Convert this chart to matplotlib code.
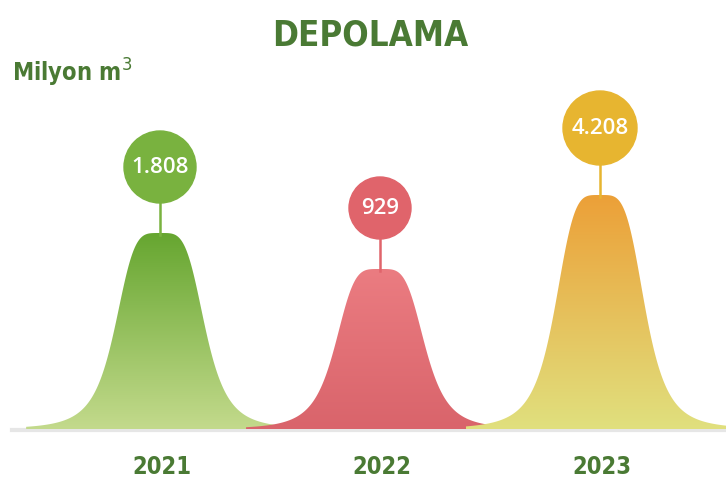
import numpy as np
import matplotlib
matplotlib.use('Agg')
import matplotlib.pyplot as plt
from matplotlib.colors import LinearSegmentedColormap
from matplotlib.patches import Circle

years = ['2021', '2022', '2023']
values = ['1.808', '929', '4.208']
# peak heights as drawn in the picture (pixels above the baseline)
peak_heights = [196, 160, 234]

centers = [160, 380, 600]
radii = [36, 31, 37]
circle_colors = ['#79b23f', '#e0646b', '#e7b530']
top_colors = ['#66a630', '#eb7c81', '#eca038']
bottom_colors = ['#c3da8c', '#d9646b', '#e0e07e']
green = '#4a7a34'

W, H = 726, 481
base = 430

fig = plt.figure(figsize=(W / 100, H / 100), dpi=100)
ax = fig.add_axes([0, 0, 1, 1])
ax.set_xlim(0, W)
ax.set_ylim(H, 0)
ax.axis('off')

ax.plot([12, W], [base + 1, base + 1], color='#e6e6e6', lw=3, zorder=1)

x = np.linspace(0, W, 1500)
for i in range(3):
    h = peak_heights[i]
    cx = centers[i]
    f = 1.0 / (1.0 + (np.abs(x - cx) / 46.0) ** 4.2)
    y = base - h * f
    m = f > 0.011
    poly = ax.fill_between(x[m], base, y[m], color='none', lw=0, zorder=2)
    cmap = LinearSegmentedColormap.from_list('g%d' % i, [top_colors[i], bottom_colors[i]])
    grad = np.linspace(0, 1, 256).reshape(-1, 1)
    im = ax.imshow(grad, cmap=cmap, aspect='auto',
                   extent=[x[m][0], x[m][-1], base, base - h], zorder=2)
    im.set_clip_path(poly.get_paths()[0], transform=ax.transData)

    top = base - h
    r = radii[i]
    cy = top - 30 - r
    ax.plot([cx, cx], [top + 2, cy + r], color=circle_colors[i], lw=1.8, zorder=3)
    ax.add_patch(Circle((cx, cy), r, color=circle_colors[i], zorder=4))
    ax.text(cx, cy, values[i], color='white', fontsize=16, fontweight='semibold',
            family='Open Sans', ha='center', va='center', zorder=5)
    ax.text(cx + 2, 467, years[i], color=green, fontsize=17, fontweight='bold',
            fontstretch='condensed', ha='center', va='center')

ax.text(370, 35, 'DEPOLAMA', color=green, fontsize=25, fontweight='bold',
        fontstretch='condensed', ha='center', va='center')
ax.text(12, 73, 'Milyon m$^3$', color=green, fontsize=17, fontweight='bold',
        fontstretch='condensed', ha='left', va='center')

fig.savefig('out.png', dpi=100)
